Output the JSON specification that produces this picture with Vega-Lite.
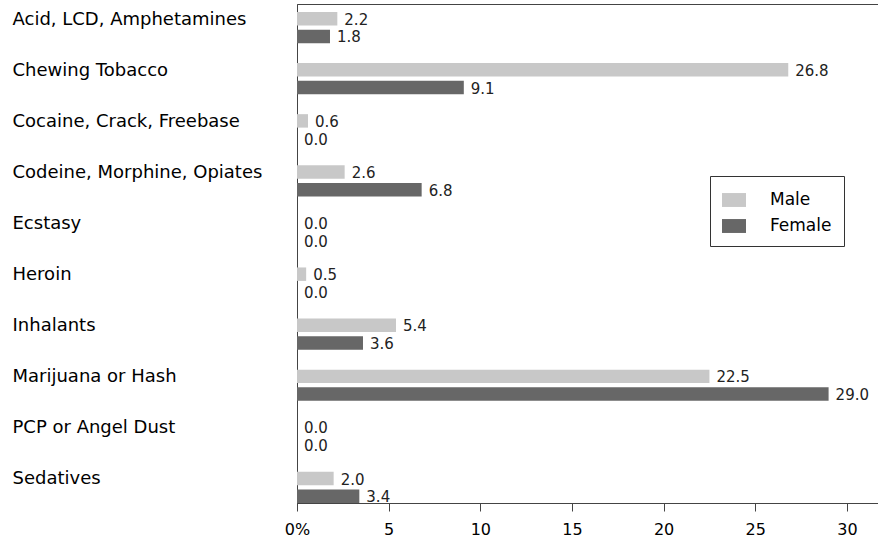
{
  "$schema": "https://vega.github.io/schema/vega-lite/v6.json",
  "width": 582,
  "height": 499,
  "autosize": {"type": "none"},
  "padding": {"left": 297, "top": 4, "right": 0, "bottom": 43},
  "background": "white",
  "config": {"view": {"stroke": "#444", "strokeWidth": 1}, "font": "DejaVu Sans"},
  "data": {"values": [
    {"drug": "Acid, LCD, Amphetamines", "sex": "Male", "pct": 2.2},
    {"drug": "Acid, LCD, Amphetamines", "sex": "Female", "pct": 1.8},
    {"drug": "Chewing Tobacco", "sex": "Male", "pct": 26.8},
    {"drug": "Chewing Tobacco", "sex": "Female", "pct": 9.1},
    {"drug": "Cocaine, Crack, Freebase", "sex": "Male", "pct": 0.6},
    {"drug": "Cocaine, Crack, Freebase", "sex": "Female", "pct": 0.0},
    {"drug": "Codeine, Morphine, Opiates", "sex": "Male", "pct": 2.6},
    {"drug": "Codeine, Morphine, Opiates", "sex": "Female", "pct": 6.8},
    {"drug": "Ecstasy", "sex": "Male", "pct": 0.0},
    {"drug": "Ecstasy", "sex": "Female", "pct": 0.0},
    {"drug": "Heroin", "sex": "Male", "pct": 0.5},
    {"drug": "Heroin", "sex": "Female", "pct": 0.0},
    {"drug": "Inhalants", "sex": "Male", "pct": 5.4},
    {"drug": "Inhalants", "sex": "Female", "pct": 3.6},
    {"drug": "Marijuana or Hash", "sex": "Male", "pct": 22.5},
    {"drug": "Marijuana or Hash", "sex": "Female", "pct": 29.0},
    {"drug": "PCP or Angel Dust", "sex": "Male", "pct": 0.0},
    {"drug": "PCP or Angel Dust", "sex": "Female", "pct": 0.0},
    {"drug": "Sedatives", "sex": "Male", "pct": 2.0},
    {"drug": "Sedatives", "sex": "Female", "pct": 3.4}
  ]},
  "encoding": {
    "y": {
      "field": "drug", "type": "nominal", "sort": null,
      "scale": {"paddingInner": 0.39, "paddingOuter": 0.078, "align": 1},
      "axis": {
        "title": null, "ticks": false, "tickSize": 0, "domainColor": "#444",
        "labelAlign": "left", "labelPadding": 285, "labelFontSize": 18,
        "labelColor": "black", "labelOffset": -8, "labelLimit": 0,
        "labelBaseline": "middle", "grid": false
      }
    },
    "yOffset": {"field": "sex", "type": "nominal", "sort": ["Male", "Female"], "scale": {"paddingInner": 0.24}},
    "x": {
      "field": "pct", "type": "quantitative",
      "scale": {"domain": [0, 31.75], "nice": false, "zero": true},
      "axis": {
        "title": null, "values": [0, 5, 10, 15, 20, 25, 30], "tickSize": 8,
        "tickColor": "#444", "domainColor": "#444", "labelFontSize": 16,
        "labelColor": "black", "labelPadding": 10, "grid": false, "labelFlush": false,
        "labelExpr": "datum.value == 0 ? '0%' : datum.label"
      }
    }
  },
  "layer": [
    {
      "mark": {"type": "bar"},
      "encoding": {
        "color": {
          "field": "sex", "type": "nominal",
          "scale": {"domain": ["Male", "Female"], "range": ["#c8c8c8", "#676767"]},
          "legend": {
            "orient": "none", "legendX": 413, "legendY": 172, "title": null,
            "strokeColor": "#333", "padding": 12, "fillColor": "white",
            "symbolType": "M-1,-0.58H1V0.58H-1Z", "symbolSize": 576,
            "symbolStrokeWidth": 0, "labelFontSize": 17, "labelOffset": 24,
            "rowPadding": 6, "labelColor": "black",
            "labelExpr": "datum.label + '\u00a0\u00a0\u00a0'"
          }
        }
      }
    },
    {
      "mark": {"type": "text", "align": "left", "dx": 7, "baseline": "middle", "dy": 1, "fontSize": 15, "color": "#222"},
      "encoding": {"text": {"field": "pct", "type": "quantitative", "format": ".1f"}}
    }
  ]
}
